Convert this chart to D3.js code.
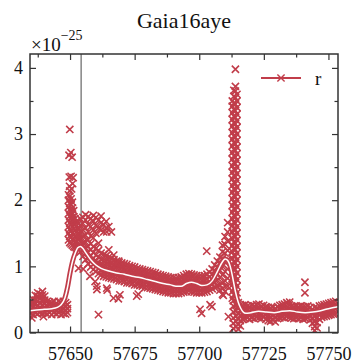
<!DOCTYPE html>
<html>
<head>
<meta charset="utf-8">
<script src="https://cdn.jsdelivr.net/npm/d3@7"></script>
<style>
  body { margin: 0; background: #fff; }
  svg { display: block; }
  svg text { font-family: "Liberation Serif", "Times New Roman", Times, "DejaVu Serif", serif; fill: #111; }
</style>
</head>
<body>
<svg id="chart" width="354" height="363"></svg>
<script>
// ---- light curve data: MJD and flux (units of 1e-25) ----
// Smoothed model curve
const modelMjd = [57634.5, 57637, 57640, 57643, 57645, 57646.5, 57648, 57649, 57650, 57651, 57652, 57653, 57654, 57655, 57656, 57658, 57660, 57662, 57665, 57668, 57671, 57674, 57677, 57680, 57683, 57686, 57689, 57691, 57693, 57695, 57697, 57699, 57701, 57703, 57705, 57707, 57709, 57710, 57711, 57712, 57713, 57714, 57715, 57716, 57717, 57718, 57720, 57723, 57726, 57729, 57732, 57735, 57738, 57741, 57744, 57747, 57750, 57753.7];
const modelFlux = [0.33, 0.34, 0.35, 0.36, 0.38, 0.42, 0.52, 0.68, 0.90, 1.08, 1.20, 1.28, 1.30, 1.27, 1.21, 1.10, 1.02, 0.97, 0.93, 0.90, 0.88, 0.85, 0.83, 0.80, 0.77, 0.74, 0.72, 0.70, 0.70, 0.74, 0.76, 0.74, 0.71, 0.72, 0.78, 0.92, 1.07, 1.11, 1.09, 1.00, 0.82, 0.62, 0.47, 0.37, 0.31, 0.29, 0.30, 0.32, 0.31, 0.30, 0.32, 0.33, 0.31, 0.30, 0.31, 0.33, 0.36, 0.39];

// Nightly r-band measurements: [MJD, [flux, ...]]
const baselineObs = [
  [57634.8, [0.29, 0.35, 0.41, 0.46]],
  [57635.7, [0.27, 0.33, 0.39, 0.45, 0.50]],
  [57636.6, [0.30, 0.36, 0.43, 0.49, 0.56]],
  [57637.5, [0.28, 0.34, 0.41, 0.48, 0.55, 0.60]],
  [57638.4, [0.31, 0.37, 0.44, 0.51, 0.58]],
  [57639.3, [0.29, 0.35, 0.42, 0.50, 0.57, 0.62]],
  [57640.2, [0.30, 0.36, 0.43, 0.49, 0.55]],
  [57641.1, [0.28, 0.34, 0.40, 0.47]],
  [57642.0, [0.30, 0.36, 0.42, 0.46]],
  [57642.9, [0.27, 0.33, 0.39, 0.45]],
  [57643.8, [0.30, 0.36, 0.41, 0.47]],
  [57644.7, [0.28, 0.34, 0.40, 0.44]],
  [57645.6, [0.30, 0.35, 0.41, 0.47]],
  [57646.5, [0.27, 0.33, 0.39, 0.45]],
  [57647.4, [0.29, 0.35, 0.42, 0.47]],
  [57648.3, [0.28, 0.34, 0.40, 0.45]],
  [57649.0, [0.30, 0.36, 0.42]]
];

const entryObs = [
  [57649.4, [1.40, 1.50, 1.60, 1.70, 1.80, 1.90, 2.00, 2.08]],
  [57649.9, [1.36, 1.46, 1.56, 1.66, 1.76, 1.86, 1.96, 2.06, 2.14]],
  [57650.4, [1.34, 1.44, 1.53, 1.63, 1.73, 1.83, 1.93, 2.02]],
  [57650.9, [1.32, 1.41, 1.50, 1.60, 1.70, 1.79, 1.88, 1.97]],
  [57651.4, [1.30, 1.39, 1.48, 1.57, 1.66, 1.75, 1.84]],
  [57651.9, [1.29, 1.37, 1.46, 1.55, 1.63, 1.72]],
  [57652.4, [1.28, 1.36, 1.44, 1.52, 1.60, 1.68]],
  [57652.9, [1.26, 1.34, 1.42, 1.50, 1.58, 1.66]],
  [57653.4, [1.25, 1.33, 1.41, 1.49, 1.57, 1.65]]
];

const decayObs = [
  [57654.0, [1.22, 1.32, 1.42, 1.52, 1.62, 1.72]],
  [57655.0, [1.15, 1.25, 1.35, 1.45, 1.55, 1.65, 1.74]],
  [57656.0, [1.10, 1.19, 1.28, 1.37, 1.47, 1.58, 1.70, 1.78]],
  [57657.0, [1.04, 1.12, 1.21, 1.30, 1.40, 1.52, 1.63, 1.75]],
  [57658.0, [0.99, 1.07, 1.16, 1.25, 1.34, 1.46, 1.60, 1.72]],
  [57659.0, [0.95, 1.03, 1.12, 1.21, 1.30, 1.43, 1.55, 1.68, 1.77]],
  [57660.0, [0.92, 1.00, 1.08, 1.17, 1.27, 1.50, 1.62, 1.74]],
  [57661.0, [0.89, 0.97, 1.05, 1.14, 1.24, 1.35, 1.58, 1.70]],
  [57662.0, [0.87, 0.95, 1.03, 1.11, 1.20, 1.55, 1.66, 1.76]],
  [57663.0, [0.85, 0.93, 1.01, 1.09, 1.18, 1.52, 1.63]],
  [57664.0, [0.84, 0.92, 1.00, 1.08, 1.16, 1.58, 1.68]],
  [57665.0, [0.83, 0.91, 0.99, 1.07, 1.14, 1.60]],
  [57666.0, [0.82, 0.90, 0.98, 1.05, 1.12, 1.52]],
  [57667.0, [0.81, 0.89, 0.96, 1.03, 1.10]],
  [57668.0, [0.80, 0.88, 0.95, 1.02, 1.08]],
  [57669.0, [0.78, 0.87, 0.94, 1.01, 1.06]],
  [57670.0, [0.78, 0.85, 0.93, 0.99, 1.05]],
  [57671.0, [0.77, 0.85, 0.92, 0.98, 1.04]],
  [57672.0, [0.75, 0.84, 0.90, 0.97, 1.03]],
  [57673.0, [0.75, 0.83, 0.90, 0.96, 1.01]],
  [57674.0, [0.74, 0.81, 0.88, 0.94, 1.00]],
  [57675.0, [0.72, 0.81, 0.87, 0.93, 0.99]],
  [57676.0, [0.72, 0.80, 0.86, 0.92, 0.97]],
  [57677.0, [0.71, 0.78, 0.85, 0.91, 0.96]],
  [57678.0, [0.70, 0.78, 0.84, 0.90, 0.95]],
  [57679.0, [0.68, 0.77, 0.83, 0.89, 0.94]],
  [57680.0, [0.68, 0.76, 0.82, 0.88, 0.93]],
  [57681.0, [0.67, 0.74, 0.80, 0.86, 0.92]],
  [57682.0, [0.66, 0.73, 0.79, 0.85, 0.91]],
  [57683.0, [0.65, 0.72, 0.78, 0.84, 0.90]],
  [57684.0, [0.64, 0.71, 0.77, 0.83, 0.88]],
  [57685.0, [0.63, 0.70, 0.76, 0.82, 0.87]],
  [57686.0, [0.62, 0.69, 0.75, 0.81, 0.86]],
  [57687.0, [0.61, 0.68, 0.74, 0.80, 0.85]],
  [57688.0, [0.60, 0.67, 0.73, 0.79, 0.84]],
  [57689.0, [0.60, 0.66, 0.72, 0.78, 0.83]],
  [57690.0, [0.59, 0.65, 0.71, 0.77, 0.83]],
  [57691.0, [0.59, 0.65, 0.71, 0.77, 0.82]],
  [57692.0, [0.59, 0.65, 0.71, 0.77, 0.83]],
  [57693.0, [0.60, 0.66, 0.72, 0.78, 0.84]],
  [57694.0, [0.61, 0.67, 0.73, 0.80, 0.86]],
  [57695.0, [0.62, 0.68, 0.75, 0.82, 0.88]],
  [57696.0, [0.63, 0.69, 0.76, 0.83, 0.89]],
  [57697.0, [0.62, 0.69, 0.76, 0.82, 0.88]],
  [57698.0, [0.61, 0.68, 0.74, 0.81, 0.87]],
  [57699.0, [0.60, 0.67, 0.73, 0.79, 0.86]],
  [57700.0, [0.60, 0.66, 0.72, 0.78, 0.85]],
  [57701.0, [0.60, 0.66, 0.72, 0.78, 0.85]],
  [57702.0, [0.61, 0.67, 0.73, 0.79, 0.86]],
  [57703.0, [0.62, 0.68, 0.74, 0.81, 0.88]],
  [57704.0, [0.64, 0.70, 0.77, 0.84, 0.91]],
  [57705.0, [0.66, 0.73, 0.80, 0.88, 0.96]],
  [57706.0, [0.68, 0.76, 0.85, 0.94, 1.02]],
  [57707.0, [0.70, 0.79, 0.89, 0.99, 1.08]],
  [57708.0, [0.64, 0.72, 0.83, 0.94, 1.05, 1.14]],
  [57709.0, [0.58, 0.66, 0.75, 0.87, 1.00, 1.12, 1.22, 1.32]],
  [57710.0, [0.62, 0.70, 0.78, 0.92, 1.06, 1.20, 1.33, 1.45]],
  [57711.0, [0.70, 0.82, 0.96, 1.10, 1.24, 1.38, 1.52, 1.66]]
];

// Caustic exit: densely sampled nights
const causticObs = [
  [57712.8, [0.52, 0.62, 0.72, 0.82, 0.92, 1.02, 1.12, 1.22, 1.32, 1.42, 1.52, 1.62, 1.72, 1.82, 1.92, 2.02, 2.12, 2.22, 2.32, 2.42, 2.52, 2.62, 2.72, 2.82, 2.92, 3.02, 3.12, 3.22, 3.32, 3.42, 3.50]],
  [57713.4, [0.57, 0.67, 0.77, 0.87, 0.97, 1.07, 1.17, 1.27, 1.37, 1.47, 1.57, 1.67, 1.77, 1.87, 1.97, 2.07, 2.17, 2.27, 2.37, 2.47, 2.57, 2.67, 2.77, 2.87, 2.97, 3.07, 3.17, 3.27, 3.37, 3.47, 3.57, 3.66]],
  [57714.0, [0.55, 0.65, 0.75, 0.85, 0.95, 1.05, 1.15, 1.25, 1.35, 1.45, 1.55, 1.65, 1.75, 1.85, 1.95, 2.05, 2.15, 2.25, 2.35, 2.45, 2.55, 2.65, 2.75, 2.85, 2.95, 3.05, 3.15, 3.25, 3.35, 3.45, 3.55, 3.65, 3.72]],
  [57714.6, [0.60, 0.70, 0.80, 0.90, 1.00, 1.10, 1.20, 1.30, 1.40, 1.50, 1.60, 1.70, 1.80, 1.90, 2.00, 2.10, 2.20, 2.30, 2.40, 2.50, 2.60, 2.70, 2.80, 2.90, 3.00, 3.10, 3.20, 3.30, 3.40, 3.50, 3.60]],
  [57713.2, [0.06, 0.14, 0.22, 0.31, 0.40, 0.48]],
  [57714.2, [0.09, 0.17, 0.25, 0.33, 0.42]],
  [57715.1, [0.05, 0.12, 0.20, 0.28, 0.36, 0.45]],
  [57715.9, [0.10, 0.18, 0.26, 0.34, 0.42]]
];

const postObs = [
  [57716.8, [0.20, 0.27, 0.34, 0.41]],
  [57717.7, [0.21, 0.28, 0.35, 0.42]],
  [57718.6, [0.22, 0.28, 0.34, 0.40]],
  [57719.5, [0.20, 0.26, 0.33, 0.39]],
  [57720.4, [0.22, 0.29, 0.35, 0.41]],
  [57721.3, [0.21, 0.27, 0.34, 0.40]],
  [57722.2, [0.23, 0.29, 0.36, 0.42]],
  [57723.1, [0.22, 0.28, 0.35, 0.43]],
  [57724.0, [0.21, 0.28, 0.34, 0.40]],
  [57724.9, [0.23, 0.29, 0.35, 0.41]],
  [57725.8, [0.20, 0.27, 0.33, 0.39]],
  [57726.7, [0.18, 0.25, 0.31, 0.38]],
  [57727.6, [0.17, 0.24, 0.31, 0.37]],
  [57728.5, [0.19, 0.26, 0.32, 0.38]],
  [57729.4, [0.16, 0.22, 0.29, 0.36]],
  [57730.3, [0.21, 0.27, 0.33, 0.39]],
  [57731.2, [0.22, 0.28, 0.35, 0.41]],
  [57732.1, [0.23, 0.29, 0.36, 0.42]],
  [57733.0, [0.22, 0.29, 0.35, 0.43]],
  [57733.9, [0.24, 0.30, 0.37, 0.45]],
  [57734.8, [0.23, 0.29, 0.36, 0.42]],
  [57735.7, [0.22, 0.28, 0.34, 0.40]],
  [57736.6, [0.21, 0.27, 0.33, 0.39]],
  [57737.5, [0.22, 0.28, 0.34, 0.40]],
  [57738.4, [0.21, 0.27, 0.33, 0.39]],
  [57739.3, [0.22, 0.28, 0.34, 0.40]],
  [57740.2, [0.20, 0.26, 0.33, 0.39]],
  [57741.1, [0.21, 0.27, 0.33, 0.39]],
  [57742.0, [0.22, 0.28, 0.34, 0.40]],
  [57742.9, [0.19, 0.26, 0.32, 0.38]],
  [57743.8, [0.14, 0.21, 0.28, 0.35]],
  [57744.7, [0.03, 0.09, 0.16, 0.24, 0.31, 0.38]],
  [57745.6, [0.07, 0.15, 0.23, 0.30, 0.37]],
  [57746.5, [0.20, 0.27, 0.33, 0.40]],
  [57747.4, [0.23, 0.29, 0.35, 0.41]],
  [57748.3, [0.24, 0.30, 0.36, 0.42]],
  [57749.2, [0.25, 0.31, 0.37, 0.43]],
  [57750.1, [0.26, 0.32, 0.38, 0.44]],
  [57751.0, [0.27, 0.33, 0.39, 0.45]],
  [57751.9, [0.28, 0.34, 0.40, 0.46]],
  [57752.8, [0.28, 0.35, 0.41, 0.47]]
];

// Isolated measurements away from the main sequence: [MJD, flux]
const outlierObs = [
  [57635.2, 0.22], [57639.7, 0.24],
  [57649.9, 3.07], [57650.3, 2.72], [57650.8, 2.65], [57649.6, 2.68],
  [57649.7, 2.35], [57650.4, 2.36], [57651.2, 2.34], [57649.8, 2.21], [57650.6, 2.17], [57651.0, 2.25],
  [57653.3, 0.97], [57655.1, 0.96], [57657.7, 0.85], [57659.7, 0.77], [57660.3, 0.70], [57660.4, 0.65],
  [57661.0, 0.27], [57664.2, 0.67], [57664.4, 0.64], [57666.8, 0.52], [57668.7, 0.51], [57669.3, 0.57],
  [57675.8, 0.55], [57676.4, 0.58], [57664.2, 1.52], [57665.0, 1.25], [57666.9, 1.17], [57668.8, 1.08],
  [57702.9, 1.23], [57700.3, 0.35], [57700.9, 0.29], [57704.2, 0.42], [57704.9, 0.39],
  [57709.3, 0.56], [57711.3, 0.24], [57714.0, 3.98], [57735.0, 0.46],
  [57740.9, 0.76], [57740.9, 0.60]
];

// ---- layout ----
const frame = { left: 30, right: 338, top: 54, bottom: 332.5 };
const red = "#c13d4a";
const serif = '"Liberation Serif", "Times New Roman", Times, "DejaVu Serif", serif';

const x = d3.scaleLinear().domain([57634.5, 57753.7]).range([frame.left, frame.right]);
const y = d3.scaleLinear().domain([0, 4.21]).range([frame.bottom, frame.top]);

const xMajor = [57650, 57675, 57700, 57725, 57750];
const xMinor = [57637.5, 57662.5, 57687.5, 57712.5, 57737.5];
const yMajor = [0, 1, 2, 3, 4];
const yMinor = [0.5, 1.5, 2.5, 3.5];
const markerMjd = 57654.3;   // reference epoch marked by the vertical line

const svg = d3.select("#chart").attr("font-family", serif);

svg.append("defs").append("clipPath").attr("id", "plotClip")
  .append("rect")
  .attr("x", frame.left).attr("y", frame.top)
  .attr("width", frame.right - frame.left).attr("height", frame.bottom - frame.top);

// flatten nightly groups to individual points
const flatten = groups => groups.flatMap(([t, fs]) => fs.map(f => [t, f]));
const points = [
  ...flatten(baselineObs), ...flatten(entryObs), ...flatten(decayObs),
  ...flatten(causticObs), ...flatten(postObs), ...outlierObs
];

const plot = svg.append("g").attr("clip-path", "url(#plotClip)");

// vertical reference line
plot.append("line")
  .attr("x1", x(markerMjd)).attr("x2", x(markerMjd))
  .attr("y1", frame.top).attr("y2", frame.bottom)
  .attr("stroke", "#8c8c8c").attr("stroke-width", 1.6);

// data markers
const s = 3.6;
const cross = `M${-s},${-s}L${s},${s}M${-s},${s}L${s},${-s}`;
plot.append("g")
  .selectAll("path")
  .data(points)
  .join("path")
  .attr("d", cross)
  .attr("transform", d => `translate(${x(d[0])},${y(d[1])})`)
  .attr("fill", "none")
  .attr("stroke", red)
  .attr("stroke-width", 1.6);

// model curve: red band with a white core
const model = modelMjd.map((t, i) => [t, modelFlux[i]]);
const line = d3.line().x(d => x(d[0])).y(d => y(d[1])).curve(d3.curveMonotoneX);
plot.append("path").datum(model).attr("d", line)
  .attr("fill", "none").attr("stroke", red).attr("stroke-width", 5);
plot.append("path").datum(model).attr("d", line)
  .attr("fill", "none").attr("stroke", "#fff").attr("stroke-width", 1.5);

// ---- axes with inward ticks on all four sides ----
const axisColor = "#333";
function styleAxis(g) {
  g.attr("font-family", serif).attr("font-size", 18);
  g.select(".domain").remove();
  g.selectAll(".tick line").attr("stroke", axisColor).attr("stroke-width", 1.2);
  g.selectAll(".tick text").attr("fill", "#111")
    .style("font-family", serif)
    .style("font-size", "18px");
}

svg.append("g").attr("transform", `translate(0,${frame.bottom})`)
  .call(d3.axisBottom(x).tickValues(xMajor).tickFormat(d3.format("d")).tickSize(-6).tickPadding(15))
  .call(styleAxis);
svg.append("g").attr("transform", `translate(0,${frame.bottom})`)
  .call(d3.axisBottom(x).tickValues(xMinor).tickFormat("").tickSize(-3.5))
  .call(styleAxis);
svg.append("g").attr("transform", `translate(0,${frame.top})`)
  .call(d3.axisTop(x).tickValues(xMajor).tickFormat("").tickSize(-6))
  .call(styleAxis);
svg.append("g").attr("transform", `translate(0,${frame.top})`)
  .call(d3.axisTop(x).tickValues(xMinor).tickFormat("").tickSize(-3.5))
  .call(styleAxis);

svg.append("g").attr("transform", `translate(${frame.left},0)`)
  .call(d3.axisLeft(y).tickValues(yMajor).tickFormat(d3.format("d")).tickSize(-6).tickPadding(7))
  .call(styleAxis);
svg.append("g").attr("transform", `translate(${frame.left},0)`)
  .call(d3.axisLeft(y).tickValues(yMinor).tickFormat("").tickSize(-3.5))
  .call(styleAxis);
svg.append("g").attr("transform", `translate(${frame.right},0)`)
  .call(d3.axisRight(y).tickValues(yMajor).tickFormat("").tickSize(-6))
  .call(styleAxis);
svg.append("g").attr("transform", `translate(${frame.right},0)`)
  .call(d3.axisRight(y).tickValues(yMinor).tickFormat("").tickSize(-3.5))
  .call(styleAxis);

// frame
svg.append("rect")
  .attr("x", frame.left).attr("y", frame.top)
  .attr("width", frame.right - frame.left).attr("height", frame.bottom - frame.top)
  .attr("fill", "none").attr("stroke", axisColor).attr("stroke-width", 1.5);

// title
svg.append("text")
  .attr("x", (frame.left + frame.right) / 2).attr("y", 28)
  .attr("text-anchor", "middle")
  .style("font-family", serif)
  .style("font-size", "22px")
  .text("Gaia16aye");

// axis scale factor
const offset = svg.append("text").attr("x", 31).attr("y", 50.5)
  .style("font-family", serif).style("font-size", "19px");
offset.append("tspan").text("×10");
offset.append("tspan").attr("dy", -11).style("font-size", "14px").text("−25");

// legend
const legend = svg.append("g").attr("transform", "translate(261,78)");
legend.append("line").attr("x1", 0).attr("x2", 40).attr("y1", 0).attr("y2", 0)
  .attr("stroke", red).attr("stroke-width", 2);
legend.append("path").attr("d", cross).attr("transform", "translate(20,0)")
  .attr("fill", "none").attr("stroke", red).attr("stroke-width", 1.4);
legend.append("text").attr("x", 54).attr("y", 6.5)
  .style("font-family", serif).style("font-size", "19px").text("r");
</script>
</body>
</html>
